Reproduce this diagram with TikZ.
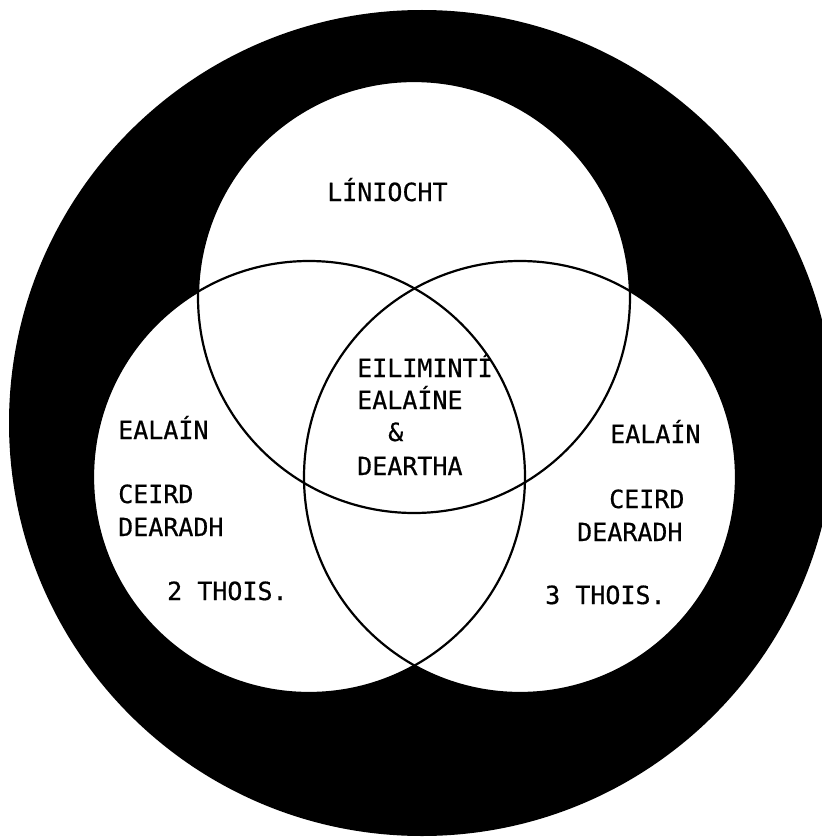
\documentclass[tikz,border=0pt]{standalone}
\usepackage{fontspec}
\newfontfamily\monofont[FakeBold=0.6]{DejaVu Sans Mono}
\begin{document}
\begin{tikzpicture}[x=1pt,y=-1pt,
  lbl/.style={anchor=base west,inner sep=0pt,font=\monofont\fontsize{25}{30}\selectfont},
  ring/.style={fill=black},
  disc/.style={fill=white},
  rim/.style={draw=black,line width=2.2pt}]
\useasboundingbox (0,0) rectangle (821,837);
\fill[white] (0,0) rectangle (821,837);
\fill[ring] (422,423) circle[radius=413];
\coordinate (ct) at (414,297);
\coordinate (cl) at (309,477);
\coordinate (cr) at (520,477);
\fill[disc] (ct) circle[radius=216];
\fill[disc] (cl) circle[radius=216];
\fill[disc] (cr) circle[radius=216];
\draw[rim] (ct) circle[radius=216];
\draw[rim] (cl) circle[radius=216];
\draw[rim] (cr) circle[radius=216];
\node[lbl] (lin) at (327,201) {LÍNIOCHT};
\node[lbl] (c1) at (357,377) {EILIMINTÍ};
\node[lbl] (c2) at (357,409) {EALAÍNE};
\node[lbl] (c3) at (388,441) {\&};
\node[lbl] (c4) at (357,475) {DEARTHA};
\node[lbl] (l1) at (118,439) {EALAÍN};
\node[lbl] (l2) at (118,503) {CEIRD};
\node[lbl] (l3) at (118,536) {DEARADH};
\node[lbl] (l4) at (167,600) {2 THOIS.};
\node[lbl] (r1) at (610,443) {EALAÍN};
\node[lbl] (r2) at (609,508) {CEIRD};
\node[lbl] (r3) at (577,541) {DEARADH};
\node[lbl] (r4) at (545,604) {3 THOIS.};
\end{tikzpicture}
\end{document}
